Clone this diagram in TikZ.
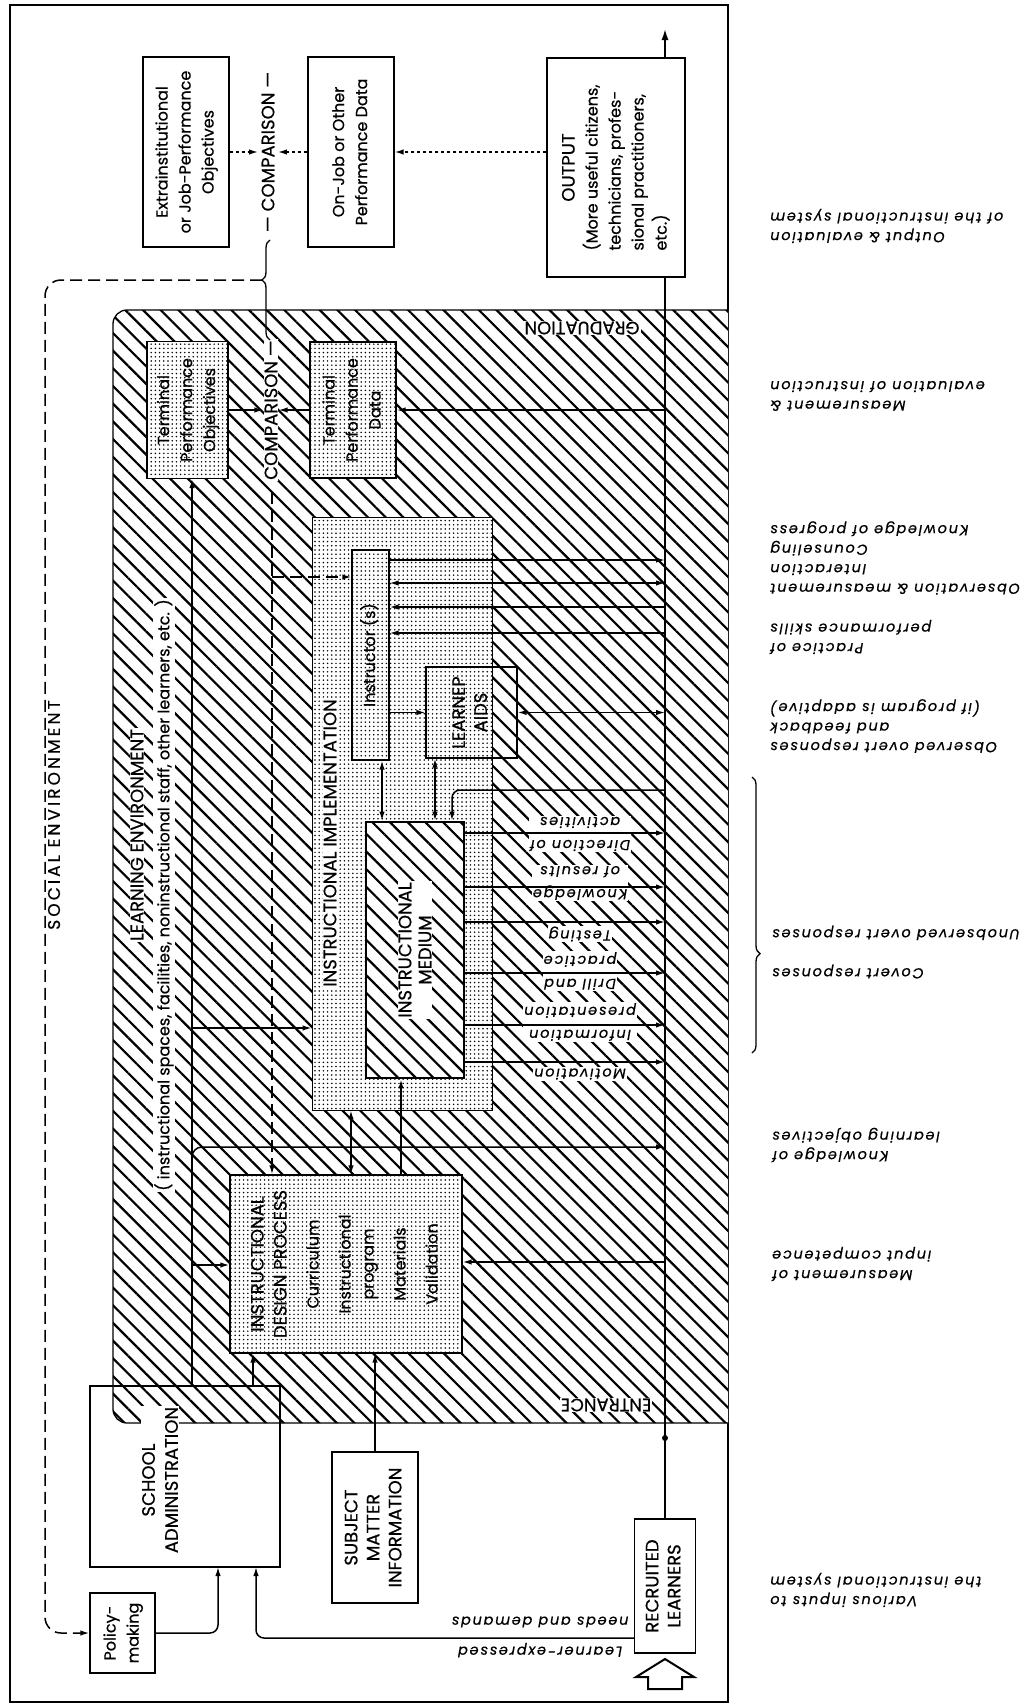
\documentclass[tikz,border=0pt]{standalone}
\usepackage{fontspec}
\setmainfont{Poppins}[FakeBold=0.6]
\newfontfamily\notefont[LetterSpace=12, FakeBold=0.5]{Poppins}
\newfontfamily\wideface[LetterSpace=18, FakeBold=0.6]{Poppins}
\usepackage{tikz}
\usetikzlibrary{arrows.meta,positioning,patterns.meta,decorations.pathreplacing}

\newcommand{\uptext}[1]{\rotatebox{90}{\begin{tabular}{@{}c@{}}#1\end{tabular}}}

\tikzset{
    box/.style={draw, line width=1.3pt, inner sep=0pt},
    stipple/.style={preaction={fill=white}, pattern={Dots[distance=4.2pt, radius=0.85pt]}},
    hatch/.style={preaction={fill=white}, pattern={Lines[angle=-45, distance=12.5pt, line width=2.2pt]}},
    arr/.style={line width=1.5pt, -{Latex[length=9pt, width=5.5pt]}},
    arrs/.style={line width=1.5pt, {Latex[length=9pt, width=5.5pt]}-{Latex[length=9pt, width=5.5pt]}},
    caps/.style={font=\fontsize{18}{22}\selectfont},
    lower/.style={font=\fontsize{16}{23}\selectfont},
    note/.style={rotate=180, anchor=east, align=right, inner sep=0pt, font=\notefont\itshape\fontsize{14.5}{19.5}\selectfont},
    band/.style={rotate=180, align=center, fill=white, inner sep=1pt, font=\notefont\itshape\fontsize{14.5}{23}\selectfont}
}

\begin{document}
\begin{tikzpicture}[x=1pt, y=-1pt]
            \useasboundingbox (0,0) rectangle (1025,1705);
            \draw [line width=1.3pt] (10,5) rectangle (728,1702);
            \draw [hatch, line width=1.3pt] (728,310) [rounded corners=14pt] -- (113,310) -- (113,1423) [sharp corners] -- (728,1423);

            \node [box, fill=white, minimum width=86, minimum height=190, lower] (extra) at (186,152) {\uptext{Extrainstitutional\\or Job-Performance\\Objectives}};
            \node [box, fill=white, minimum width=86, minimum height=190, lower] (onjob) at (351,152) {\uptext{On-Job or Other\\Performance Data}};
            \node [box, fill=white, minimum width=138, minimum height=219, lower] (output) at (616,167.5) {\rotatebox{90}{\begin{tabular}{@{}l@{}}\multicolumn{1}{@{}c@{}}{\fontsize{18}{21}\selectfont OUTPUT}\\(More useful citizens,\\technicians, profes-\\sional practitioners,\\etc.)\end{tabular}}};

            \node [rotate=90, caps] (cmp1) at (268,152) {--- COMPARISON ---};
            \node [rotate=90, caps, fill=white, inner sep=1pt] (cmp2) at (271,410) {COMPARISON ---};

            \node [box, stipple, line width=0.8pt, minimum width=180, minimum height=593] (impl) at (402,813.5) {};
            \node [box, stipple, minimum width=81, minimum height=137, lower] (tpo) at (187.5,410) {\uptext{Terminal\\Performance\\Objectives}};
            \node [box, stipple, minimum width=86, minimum height=136, lower] (tpd) at (353,410) {\uptext{Terminal\\Performance\\Data}};
            \node [box, stipple, minimum width=37, minimum height=210, lower] (instr) at (370.5,655) {\uptext{Instructor (s)}};
            \node [box, minimum width=91, minimum height=91, caps] (aids) at (471.5,712.5) {\uptext{LEARNEP\\AIDS}};
            \node [box, hatch, line width=2.8pt, minimum width=98, minimum height=256] (medium) at (415,950) {};
            \node [box, stipple, minimum width=232, minimum height=178, lower] (idp) at (346,1264) {\uptext{{\fontsize{18}{24}\selectfont INSTRUCTIONAL}\\{\fontsize{18}{24}\selectfont DESIGN PROCESS}\\[9pt]Curriculum\\[9pt]Instructional\\program\\[9pt]Materials\\[9pt]Validation}};

            \node [box, minimum width=190, minimum height=181] (admin) at (185,1476.5) {};
            \node [box, fill=white, minimum width=86, minimum height=151, caps] (subj) at (375,1527.5) {\uptext{SUBJECT\\MATTER\\INFORMATION}};
            \node [box, fill=white, minimum width=65, minimum height=80, lower] (policy) at (122.5,1633) {\uptext{Policy-\\making}};
            \node [box, fill=white, minimum width=61, minimum height=134, caps] (recruit) at (665,1586) {\uptext{RECRUITED\\LEARNERS}};

            \node [rotate=90, caps, font=\wideface\fontsize{17}{20}\selectfont] (social) at (54,815) {SOCIAL ENVIRONMENT};
            \node [rotate=90, caps, fill=white, inner sep=1pt] (lenv) at (137,835) {LEARNING ENVIRONMENT};
            \node [rotate=90, lower, fill=white, inner sep=1pt] (lspace) at (164,895) {( instructional spaces, facilities, noninstructional staff, other learners, etc. )};
            \node [rotate=180, caps, fill=white, inner sep=1pt] (grad) at (582,328) {GRADUATION};
            \node [rotate=180, caps, fill=white, inner sep=1pt] (entr) at (606,1405) {ENTRANCE};
            \node [rotate=90, caps, fill=white, inner sep=1pt] (impltext) at (330,843) {INSTRUCTIONAL IMPLEMENTATION};
            \node [rotate=90, caps, fill=white, inner sep=1pt, align=center, font=\fontsize{18}{20}\selectfont] (medtext) at (medium) {INSTRUCTIONAL\\MEDIUM};
            \node [rotate=90, caps, fill=white, inner sep=1pt, align=center, font=\fontsize{18}{23}\selectfont] (admtext) at (160,1480) {SCHOOL\\ADMINISTRATION};

            \node [band] (bd1) at (580,834) {Direction of\\activities};
            \node [band] (bd2) at (580,883) {Knowledge\\of results};
            \node [band] (bd3) at (580,934) {Testing};
            \node [band] (bd4) at (580,971) {Drill and\\practice};
            \node [band] (bd5) at (580,1022) {Information\\presentation};
            \node [band] (bd6) at (580,1074) {Motivation};
            \node [band, fill=none, font=\notefont\itshape\fontsize{14.5}{30}\selectfont] (lexp) at (540,1637) {Learner-expressed\\needs and demands};

            \node [note] (n1) at (770,226) {Output \& evaluation\\of the instructional system};
            \node [note] (n2) at (770,396) {Measurement \&\\evaluation of instruction};
            \node [note] (n3) at (770,558) {Observation \& measurement\\Interaction\\Counseling\\Knowledge of progress};
            \node [note] (n4) at (770,637) {Practice of\\performance skills};
            \node [note] (n5) at (770,726) {Observed overt responses\\and feedback\\(if program is adaptive)};
            \node [note, font=\notefont\itshape\fontsize{14.5}{39}\selectfont] (n6) at (772,952) {Covert responses\\Unobserved overt responses};
            \node [note] (n7) at (772,1145) {Knowledge of\\learning objectives};
            \node [note] (n8) at (772,1264) {Measurement of\\input competence};
            \node [note] (n9) at (770,1590) {Various inputs to\\the instructional system};
            \draw [line width=1.3pt, decorate, decoration={brace, amplitude=8pt, aspect=0.64}] (752,777) -- (752,1053);

            \coordinate (top) at (665,28);
            \coordinate (sp1) at (665,410);
            \coordinate (sp2) at (665,560);
            \coordinate (sp3) at (665,583);
            \coordinate (sp4) at (665,607);
            \coordinate (sp5) at (665,633);
            \coordinate (sp6) at (665,712.5);
            \coordinate (sp7) at (665,790);
            \coordinate (sp8) at (665,833);
            \coordinate (sp9) at (665,887);
            \coordinate (sp10) at (665,922);
            \coordinate (sp11) at (665,973);
            \coordinate (sp12) at (665,1025);
            \coordinate (sp13) at (665,1062);
            \coordinate (sp14) at (665,1147);
            \coordinate (sp15) at (665,1262);

            \draw [line width=2.8pt] (recruit.north) -- (recruit.north |- output.south);
            \draw [line width=2.8pt, -{Latex[length=12pt, width=7pt]}] (recruit.north |- output.north) -- (top);
            \fill (665,1438) circle (3pt);
            \draw [line width=2pt] (665,1659) -- (694,1677) -- (682,1677) -- (682,1689) -- (648,1689) -- (648,1677) -- (636,1677) -- cycle;

            \draw [arr] (sp1) -- (tpd.east);
            \draw [arr] (instr.east |- sp2) -- (sp2);
            \draw [arrs] (instr.east |- sp3) -- (sp3);
            \draw [arr] (sp4) -- (instr.east |- sp4);
            \draw [arr] (sp5) -- (instr.east |- sp5);
            \draw [arrs] (aids.east) -- (sp6);
            \draw [arr, rounded corners=8pt] (sp7) -| ([xshift=37pt]medium.north);
            \draw [arr] (medium.east |- sp8) -- (sp8);
            \draw [arr] (medium.east |- sp9) -- (sp9);
            \draw [arr] (medium.east |- sp10) -- (sp10);
            \draw [arr] (medium.east |- sp11) -- (sp11);
            \draw [arr] (medium.east |- sp12) -- (sp12);
            \draw [arr] (medium.east |- sp13) -- (sp13);
            \draw [arr] (sp15) -- (sp15 -| idp.east);

            \coordinate (adm) at (192,1386);
            \coordinate (b1) at (192,1028);
            \coordinate (b2) at (192,1265);
            \coordinate (b3) at (253,1386);
            \coordinate (b4) at (218,1567);
            \coordinate (b5) at (256,1567);
            \coordinate (lo) at (192,1172);
            \draw [arr] (adm) -- (adm |- tpo.south);
            \draw [arr] (b1) -- (b1 -| impl.west);
            \draw [arr] (b2) -- (b2 -| idp.west);
            \draw [arr, rounded corners=10pt] (lo) |- (sp14);
            \draw [arr] (b3) -- (b3 |- idp.south);
            \draw [arr] (subj.north) -- (subj.north |- idp.south);
            \draw [arr, rounded corners=8pt] (policy.east) -| (b4);
            \draw [arr, rounded corners=8pt] ([yshift=-52pt]recruit.west) -| (b5);

            \draw [arrs] ([xshift=11.5pt]instr.south) -- ([xshift=11.5pt]instr.south |- medium.north);
            \draw [arrs] ([xshift=-36.5pt]aids.south) -- ([xshift=-36.5pt]aids.south |- medium.north);
            \draw [arr] (instr.east |- aids) -- (aids.west);
            \draw [arrs] ([xshift=5pt]idp.north) -- ([xshift=5pt]idp.north |- impl.south);
            \draw [arr] ([xshift=55pt]idp.north) -- ([xshift=55pt]idp.north |- medium.south);

            \draw [arr] (tpo.east) -- (cmp2.north);
            \draw [arr] (tpd.west) -- (cmp2.south);
            \draw [arr, dashed] (extra.east) -- (cmp1.north);
            \draw [arr, dashed] (onjob.west) -- (cmp1.south);
            \draw [arr, dashed] (output.west |- onjob) -- (onjob.east);

            \coordinate (c1) at (270,240);
            \coordinate (c2) at (270,340);
            \coordinate (bt) at (262,280);
            \coordinate (c3) at (272,492);
            \coordinate (c4) at (272,577);
            \draw [line width=1.3pt, decorate, decoration={brace, amplitude=8pt, aspect=0.6}] (c2) -- (c1);
            \draw [arr, dashed, dash pattern=on 12pt off 6pt, rounded corners=16pt] (bt) -- (45,280) -- (45,1633) -- (policy.west);
            \draw [arr, dashed, dash pattern=on 12pt off 6pt] (c3) -- (c3 |- idp.north);
            \draw [arr, dashed, dash pattern=on 12pt off 6pt] (c4) -- (c4 -| instr.west);
\end{tikzpicture}
\end{document}
